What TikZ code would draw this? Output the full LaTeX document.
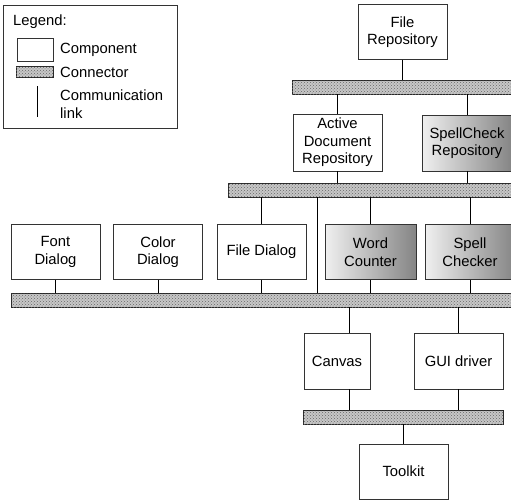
\documentclass[tikz,border=0pt]{standalone}
\usepackage{fontspec}
\setmainfont{Liberation Sans}
\usetikzlibrary{patterns}

\begin{document}
\begin{tikzpicture}[x=1pt, y=-1pt,
  comp/.style={draw=black!80, line width=0.8pt, fill=white, minimum width=89pt, minimum height=55pt, inner sep=0pt, align=center, font=\fontsize{14.8}{17.5}\selectfont},
  shade/.style={comp, left color=black!6, right color=black!48},
  bus/.style={draw=black!85, line width=0.8pt, minimum height=14pt, inner sep=0pt, fill=black!22, postaction={pattern=crosshatch dots, pattern color=black!60}},
  link/.style={line width=0.8pt},
  txt/.style={anchor=west, inner sep=0pt, align=left, font=\fontsize{14.8}{17.5}\selectfont}]
\useasboundingbox (0,0) rectangle (511,501);
\node  (leg)[draw=black!80, line width=0.8pt, minimum width=174pt, minimum height=123pt, inner sep=0pt] at (90,66.5) {};
\node  (legt)[txt] at (13,22) {Legend:};
\node  (legc)[comp, minimum width=36pt, minimum height=23pt] at (35,49.5) {};
\node  (legct)[txt] at (60,50) {Component};
\node  (legb)[bus, minimum width=37pt, minimum height=11pt] at (34.5,71.5) {};
\node  (legbt)[txt] at (60,72) {Connector};
\coordinate (lega) at (37,86);
\coordinate (legb2) at (37,117);
\draw[link] (lega) -- (legb2);
\node  (legat)[txt] at (60,104) {Communication\\link};
\node  (1)[comp] at (402.5,32) {File\\Repository};
\node  (2)[comp, minimum height=57pt] at (337.5,142.5) {Active\\Document\\Repository};
\node  (3)[shade, minimum width=90pt, minimum height=56pt] at (467,143) {SpellCheck\\Repository};
\node  (4)[comp] at (55.5,252) {Font\\Dialog};
\node  (5)[comp] at (158,252) {Color\\Dialog};
\node  (6)[comp] at (261.5,252) {File Dialog};
\node  (7)[shade, minimum width=91pt] at (370.5,252) {Word\\Counter};
\node  (8)[shade, minimum width=90pt] at (470,252) {Spell\\Checker};
\node  (9)[comp, minimum width=66pt, minimum height=56pt] at (337,361) {Canvas};
\node  (10)[comp, minimum height=56pt] at (458.5,361) {GUI driver};
\node  (11)[comp] at (403.5,471.5) {Toolkit};
\node  (b1)[bus, minimum width=223pt] at (403.5,87) {};
\node  (b2)[bus, minimum width=287pt] at (371.5,190) {};
\node  (b3)[bus, minimum width=504pt] at (263,300) {};
\node  (b4)[bus, minimum width=200pt] at (403,417) {};
\coordinate (x1) at (317,0);
\coordinate (x2) at (349,0);
\draw[link] (1.south) -- (1.south |- b1.north);
\draw[link] (2.north) -- (2.north |- b1.south);
\draw[link] (3.north) -- (3.north |- b1.south);
\draw[link] (2.south) -- (2.south |- b2.north);
\draw[link] (3.south) -- (3.south |- b2.north);
\draw[link] (6.north) -- (6.north |- b2.south);
\draw[link] (7.north) -- (7.north |- b2.south);
\draw[link] (8.north) -- (8.north |- b2.south);
\draw[link] (b2.south -| x1) -- (b3.north -| x1);
\draw[link] (4.south) -- (4.south |- b3.north);
\draw[link] (5.south) -- (5.south |- b3.north);
\draw[link] (6.south) -- (6.south |- b3.north);
\draw[link] (7.south) -- (7.south |- b3.north);
\draw[link] (8.south) -- (8.south |- b3.north);
\draw[link] (9.north -| x2) -- (b3.south -| x2);
\draw[link] (10.north) -- (10.north |- b3.south);
\draw[link] (9.south -| x2) -- (b4.north -| x2);
\draw[link] (10.south) -- (10.south |- b4.north);
\draw[link] (11.north) -- (11.north |- b4.south);
\end{tikzpicture}
\end{document}
